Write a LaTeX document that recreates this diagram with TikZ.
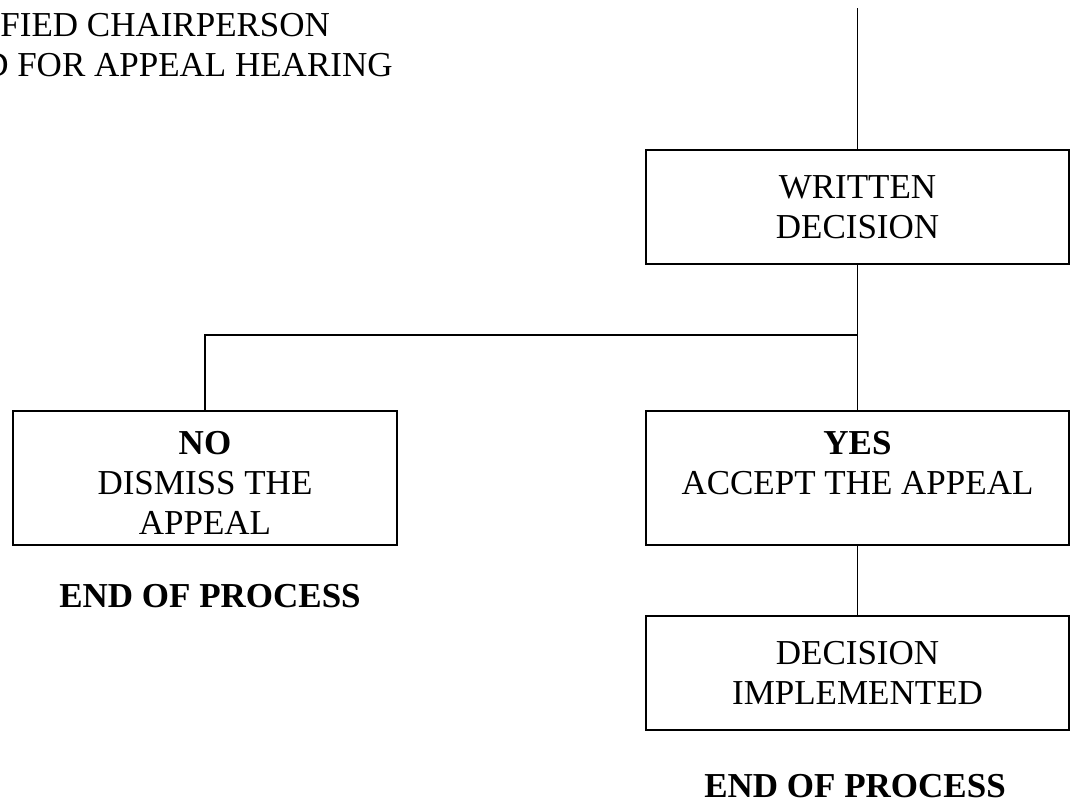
\documentclass[tikz,border=0pt]{standalone}
\usepackage{fontspec}
\setmainfont{Liberation Serif}
\usepackage{tikz}
\def\lift{\rule{0pt}{16.5pt}}
\tikzset{
	stagebox/.style={draw, line width=0.7pt, inner sep=0pt, align=center, minimum width=211.5pt},
	endnote/.style={font=\fontsize{17.5}{20}\selectfont\bfseries, inner sep=0pt, anchor=base}
}
\begin{document}
\begin{tikzpicture}[x=0.5pt, y=-0.5pt, font=\fontsize{17.5}{20}\selectfont]
			%%%%% START %%%%%
			\useasboundingbox (0, 0) rectangle (1071, 804);
			
			\node[inner sep=0pt, anchor=base west] (chair) at (0, 36) {FIED CHAIRPERSON};
			\node[inner sep=0pt, anchor=base east] (hearing) at (393, 76) {D FOR APPEAL HEARING};
			
			\node[stagebox, minimum height=57pt] (written) at (857.5, 207) {WRITTEN\\DECISION};
			\node[stagebox, minimum width=192pt, minimum height=67pt] (dismiss) at (205, 478) {\lift\textbf{NO}\\DISMISS THE\\APPEAL};
			\node[stagebox, minimum height=67pt] (accept) at (857.5, 478) {\lift\textbf{YES}\\ACCEPT THE APPEAL\\\phantom{APPEAL}};
			\node[stagebox, minimum height=57pt] (implement) at (857.5, 673) {DECISION\\IMPLEMENTED};
			
			\node[endnote] (endno) at (210, 607) {END OF PROCESS};
			\node[endnote] (endyes) at (855, 797) {END OF PROCESS};
			
			\coordinate (incoming) at (857.5, 8);
			\coordinate (split) at (857.5, 335);
			
			\draw[line width=0.7pt] (incoming) -- (written.north);
			\draw[line width=0.7pt] (written.south) -- (accept.north);
			\draw[line width=0.7pt] (split) -| (dismiss.north);
			\draw[line width=0.7pt] (accept.south) -- (implement.north);
			
			%%%%% END %%%%%
		\end{tikzpicture}
\end{document}
